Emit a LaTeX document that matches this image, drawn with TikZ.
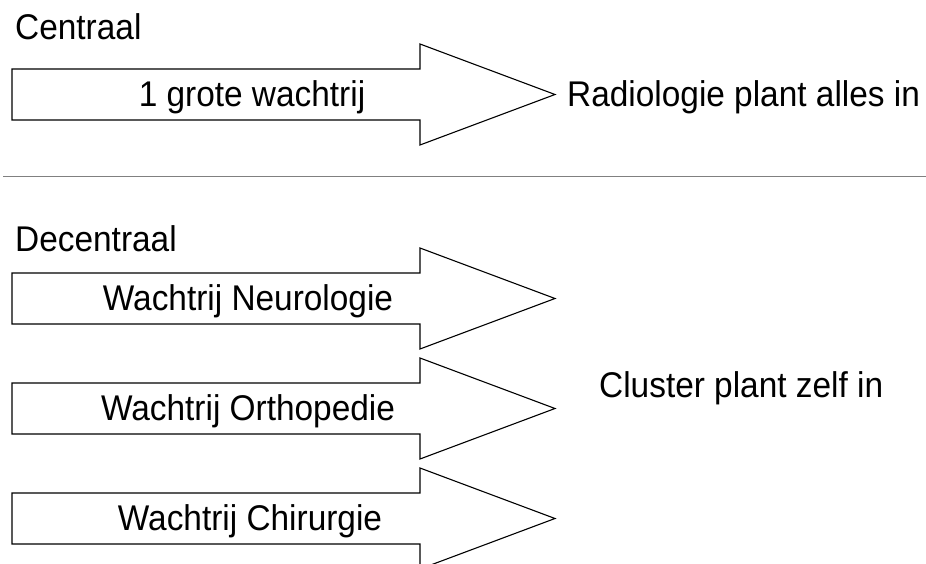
\documentclass[tikz,border=0pt]{standalone}
\usepackage{fontspec}
\setmainfont{Liberation Sans}
% labels are set slightly taller than the plain face
\newcommand{\tallt}[1]{\scalebox{1}[1.07]{#1}}
\begin{document}
\begin{tikzpicture}[x=1pt,y=-1pt,
  lbl/.style={inner sep=0pt,anchor=base,font=\fontsize{33.4}{40}\selectfont},
  lbll/.style={lbl,anchor=base west},
  queue/.style={draw=black,line width=1.1pt,line join=miter,fill=white},
  divider/.style={draw=black!50,line width=1.5pt}]
\useasboundingbox (0,0) rectangle (926,564);

% block arrow: body 12..420, head 420..555, centred on #1
\newcommand{\queuearrow}[1]{%
  \draw[queue] (12,#1-25.5) -- (420,#1-25.5) -- (420,#1-50.5) -- (555,#1)
    -- (420,#1+50.5) -- (420,#1+25.5) -- (12,#1+25.5) -- cycle;}

% central planning
\node[lbll] (centraal) at (15,39.5) {\tallt{Centraal}};
\queuearrow{94.5}
\node[lbl] (grote) at (252,106.5) {\tallt{1 grote wachtrij}};
\node[lbll] (radio) at (567,106.5) {\tallt{Radiologie plant alles in}};

% divider
\coordinate (dl) at (3,176.5);
\coordinate (dr) at (926,176.5);
\draw[divider] (dl) -- (dr);

% decentral planning
\node[lbll] (decentraal) at (15,251.5) {\tallt{Decentraal}};
\queuearrow{298.5}
\queuearrow{408.5}
\queuearrow{518.5}
\node[lbl] (neuro) at (248,310.5) {\tallt{Wachtrij Neurologie}};
\node[lbl] (ortho) at (248,420.5) {\tallt{Wachtrij Orthopedie}};
\node[lbl] (chir) at (250,530.5) {\tallt{Wachtrij Chirurgie}};
\node[lbll] (cluster) at (599,397.5) {\tallt{Cluster plant zelf in}};
\end{tikzpicture}
\end{document}
